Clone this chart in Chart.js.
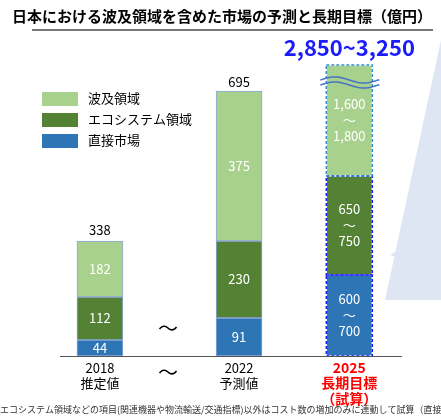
<!DOCTYPE html>
<html><head><meta charset="utf-8">
<script src="https://cdn.jsdelivr.net/npm/chart.js@4"></script>
<style>html,body{margin:0;background:#fff}#wrap{width:441px;height:416px;position:relative}</style>
</head><body><div id="wrap"><canvas id="c"></canvas></div>
<script>
// 棒の位置（横軸）と年
const years = ['2018', '2022', '2025'];
const subLabels = ['推定値', '予測値', '長期目標', '（試算）'];
const xPos = [21, 180, 306];
// 表示上の高さ（軸が省略されているので図から読んだ高さ）
const directH = [16, 38, 81];
const ecoH = [43, 77, 99];
const waveH = [56, 150, 111];
// 表示ラベル
const directLbl = ['44', '91', '600\n～\n700'];
const ecoLbl = ['112', '230', '650\n～\n750'];
const waveLbl = ['182', '375', '1,600\n～\n1,800'];
const totals = ['338', '695', '2,850~3,250'];

const FONT = '"Noto Sans CJK JP", "Noto Sans", sans-serif';
const pts = h => h.map((v, i) => ({x: xPos[i], y: v}));

const overlay = {
  id: 'overlay',
  beforeDraw(chart) {
    const c = chart.ctx;
    c.save();
    c.fillStyle = '#dfe6f3';
    c.beginPath(); c.moveTo(441, 40); c.lineTo(441, 300); c.lineTo(385, 300); c.closePath(); c.fill();
    c.beginPath(); c.moveTo(390, 255); c.lineTo(441, 225); c.lineTo(441, 270); c.closePath(); c.fill();
    c.restore();
  },
  afterDatasetsDraw(chart) {
    const c = chart.ctx;
    const sets = [directLbl, ecoLbl, waveLbl];
    c.save();
    c.textAlign = 'center'; c.textBaseline = 'middle';
    c.fillStyle = '#fff'; c.font = '13px ' + FONT;
    sets.forEach((lbls, d) => {
      chart.getDatasetMeta(d).data.forEach((bar, i) => {
        const lines = lbls[i].split('\n');
        const mid = (bar.y + bar.base) / 2;
        lines.forEach((t, k) => c.fillText(t, bar.x, mid + (k - (lines.length - 1) / 2) * 16));
        if (i === 2) {
          c.setLineDash([3, 2]); c.lineWidth = 1.5;
          c.strokeStyle = d === 2 ? '#2e8fd0' : '#1a1aff';
          c.strokeRect(bar.x - bar.width / 2, bar.y, bar.width, bar.base - bar.y);
          c.setLineDash([]);
        }
      });
    });
    // 合計
    const tops = chart.getDatasetMeta(2).data;
    c.fillStyle = '#000'; c.font = '13px ' + FONT;
    c.fillText(totals[0], tops[0].x, tops[0].y - 11);
    c.fillText(totals[1], tops[1].x, tops[1].y - 9);
    c.fillStyle = '#1a1aff'; c.font = 'bold 22px ' + FONT;
    c.fillText(totals[2], tops[2].x, 48);
    // 波線
    c.strokeStyle = '#4472c4'; c.lineWidth = 1.5;
    [0, 5].forEach(o => {
      c.beginPath();
      for (let x = tops[2].x - 29; x <= tops[2].x + 30; x++) {
        const y = 80 + o - 3 * Math.sin((x - tops[2].x + 29) / 58 * Math.PI * 2);
        x === tops[2].x - 29 ? c.moveTo(x, y) : c.lineTo(x, y);
      }
      c.stroke();
    });
    // 基線
    const base = chart.scales.y.getPixelForValue(0);
    c.strokeStyle = '#555'; c.lineWidth = 1;
    c.beginPath(); c.moveTo(60, base + 0.5); c.lineTo(402, base + 0.5); c.stroke();
    // 省略記号
    c.fillStyle = '#000'; c.font = '20px ' + FONT;
    c.fillText('～', 168, 328); c.fillText('～', 168, 372);
    // 横軸ラベル
    const xs = tops.map(b => b.x);
    c.font = '13px ' + FONT;
    c.fillText(years[0], xs[0], 368); c.fillText(subLabels[0], xs[0], 383);
    c.fillText(years[1], xs[1], 368); c.fillText(subLabels[1], xs[1], 383);
    c.fillStyle = '#ff0000'; c.font = 'bold 14px ' + FONT;
    c.fillText(years[2], xs[2], 368); c.fillText(subLabels[2], xs[2], 383); c.fillText(subLabels[3], xs[2], 399);
    // タイトル
    c.textAlign = 'left'; c.fillStyle = '#000'; c.font = 'bold 15px ' + FONT;
    c.fillText('日本における波及領域を含めた市場の予測と長期目標（億円）', 12, 16);
    c.strokeStyle = '#777'; c.lineWidth = 2;
    c.beginPath(); c.moveTo(32, 30); c.lineTo(433, 30); c.stroke();
    // 凡例
    const leg = [['#a9d18e', '波及領域'], ['#548235', 'エコシステム領域'], ['#2e75b6', '直接市場']];
    c.font = '13px ' + FONT;
    leg.forEach((l, k) => {
      const y = 92 + k * 21;
      c.fillStyle = l[0]; c.fillRect(42, y, 36, 14);
      c.fillStyle = '#000'; c.fillText(l[1], 88, y + 6);
    });
    c.font = '9px ' + FONT; c.fillStyle = '#333';
    c.fillText('エコシステム領域などの項目(関連機器や物流輸送/交通指標)以外はコスト数の増加のみに連動して試算（直接市', 0, 410);
    c.restore();
  }
};

const common = {barThickness: 46, borderWidth: 1, borderColor: ['#8ea9db', '#8ea9db', 'rgba(0,0,0,0)'], borderSkipped: false};
new Chart(document.getElementById('c'), {
  type: 'bar',
  data: {datasets: [
    {label: '直接市場', data: pts(directH), backgroundColor: '#2e75b6', ...common},
    {label: 'エコシステム領域', data: pts(ecoH), backgroundColor: '#548235', ...common},
    {label: '波及領域', data: pts(waveH), backgroundColor: '#a9d18e', ...common}
  ]},
  plugins: [overlay],
  options: {
    responsive: true, maintainAspectRatio: false, animation: false,
    layout: {padding: {left: 60, right: 36, top: 40, bottom: 60}},
    plugins: {legend: {display: false}, tooltip: {enabled: false}},
    scales: {
      x: {type: 'linear', min: 0, max: 345, stacked: true, display: false},
      y: {min: 0, max: 316, stacked: true, display: false}
    }
  }
});
</script></body></html>
